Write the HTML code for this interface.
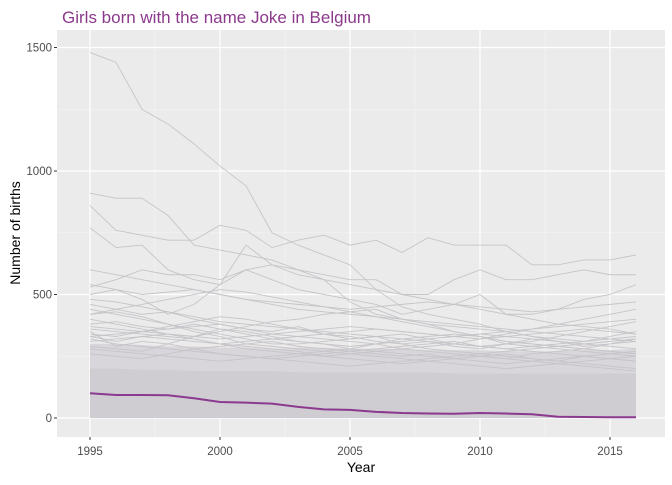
<!DOCTYPE html>
<html><head><meta charset="utf-8"><style>
body{margin:0;background:#fff;font-family:"Liberation Sans",Arial,sans-serif}
svg text{font-family:"Liberation Sans",Arial,sans-serif}
</style></head><body>
<svg id="chart" width="672" height="480">
<text x="62" y="23" font-size="17" fill="#8b3a8b">Girls born with the name Joke in Belgium</text>
<rect x="57" y="30" width="608" height="407" fill="#ebebeb"/>
<g id="grid"></g><g id="dense"></g><g id="lines"></g><g id="hl"></g><g id="axes"></g>
<text x="361" y="472" font-size="14" text-anchor="middle" fill="#000">Year</text>
<text transform="translate(20,233) rotate(-90)" font-size="14" text-anchor="middle" fill="#000">Number of births</text>
</svg>
<script>
const years=[1995,1996,1997,1998,1999,2000,2001,2002,2003,2004,2005,2006,2007,2008,2009,2010,2011,2012,2013,2014,2015,2016];
const xTicks=[1995,2000,2005,2010,2015];
const yTicks=[0,500,1000,1500];
const joke=[100,93,93,92,80,65,62,58,45,35,33,25,20,18,17,20,18,15,5,4,3,3];
const denseTop=[200,200,195,195,190,190,190,190,185,185,185,185,185,185,180,180,180,180,180,180,180,180];
const midTop=[300,300,295,290,290,285,285,280,285,285,280,280,280,275,275,275,270,270,270,275,275,280];
const s1=[1480,1440,1250,1190,1110,1020,940,750,700,660,620,520,450,420,400,380,350,330,310,300,290,280];
const s2=[910,890,890,820,700,680,660,640,600,560,540,520,500,480,460,440,420,400,380,370,360,340];
const s3=[860,760,740,720,720,780,760,690,720,740,700,720,670,730,700,700,700,620,620,640,640,660];
const s4=[770,690,700,600,560,540,700,620,580,560,470,420,400,380,370,360,350,330,320,310,330,350];
const s5=[530,560,600,580,580,560,600,620,600,580,560,560,500,500,560,600,560,560,580,600,580,580];
const s6=[500,520,480,420,460,540,600,560,520,500,480,460,420,440,460,500,420,420,440,480,500,540];
const s7=[460,440,420,430,400,380,360,350,370,340,320,330,300,310,290,280,300,320,310,290,300,310];
const s8=[420,430,410,380,350,330,300,310,290,280,270,260,250,260,240,250,260,240,230,250,240,230];
const s9=[400,380,360,340,330,350,370,390,400,420,430,440,400,380,350,330,300,290,280,270,260,250];
const s10=[380,390,370,360,380,360,340,320,310,300,290,300,280,270,260,250,240,260,270,280,300,320];
const s11=[360,350,340,330,320,300,280,270,260,250,260,270,280,290,300,320,340,360,380,400,420,440];
const s12=[340,330,350,370,390,410,400,380,360,340,330,310,300,280,270,260,250,240,230,220,210,200];
const s13=[320,300,290,280,270,260,250,240,250,260,270,280,290,300,310,290,280,270,260,250,240,230];
const s14=[330,310,330,340,320,300,290,280,270,250,240,230,220,230,240,250,240,230,220,210,200,190];
const s15=[290,280,270,300,330,360,350,330,310,300,280,270,260,250,240,230,220,230,240,250,260,270];
const s16=[280,270,260,250,240,230,240,250,260,270,280,300,320,330,340,330,310,300,290,280,270,260];
const s17=[350,290,310,300,280,260,250,240,230,220,210,220,230,240,250,260,270,280,290,300,310,320];
const s18=[260,250,240,260,280,290,300,290,280,270,260,250,240,230,220,210,200,210,220,230,240,250];
const s19=[440,420,400,380,360,340,320,300,300,310,320,330,340,320,300,290,300,310,330,350,370,390];
const s20=[480,470,450,430,410,390,380,370,360,350,340,330,320,310,300,290,280,290,300,310,320,330];
const s21=[330,340,350,360,370,380,360,340,330,340,350,360,350,340,330,320,330,340,350,360,350,340];
const s22=[370,360,350,340,330,320,330,340,350,360,370,360,350,340,330,340,350,360,370,380,390,400];
const s23=[310,320,330,320,310,300,310,320,330,320,310,300,310,320,330,340,330,320,310,300,310,320];
const s24=[600,580,560,540,520,500,480,460,440,430,420,410,400,390,380,370,360,350,340,330,320,310];
const s25=[540,520,500,510,520,500,480,470,460,450,440,450,460,470,460,450,440,430,440,450,460,470];
const s26=[420,440,460,480,500,520,510,490,470,450,430,410,390,370,350,330,310,300,290,280,270,260];
const series=[s1,s2,s3,s4,s5,s6,s7,s8,s9,s10,s11,s12,s13,s14,s15,s16,s17,s18,s19,s20,s21,s22,s23,s24,s25,s26];
const X=y=>90+(y-1995)*26.0;
const Y=v=>418-v*(123.5/500);
const NS="http://www.w3.org/2000/svg";
function mk(tag,parent,attrs){const e=document.createElementNS(NS,tag);for(const k in attrs)e.setAttribute(k,attrs[k]);document.getElementById(parent).appendChild(e);return e;}
for(let i=0;i<xTicks.length-1;i++){const e=mk('line','grid',{x1:(X(xTicks[i])+X(xTicks[i+1]))/2,x2:(X(xTicks[i])+X(xTicks[i+1]))/2,y1:30,y2:437,stroke:'#f5f5f5','stroke-width':0.6});

}
for(let i=0;i<yTicks.length-1;i++){const v=(yTicks[i]+yTicks[i+1])/2;const e=mk('line','grid',{x1:57,x2:665,y1:Y(v),y2:Y(v),stroke:'#f5f5f5','stroke-width':0.6});

}
xTicks.forEach(t=>{const e=mk('line','grid',{x1:X(t),x2:X(t),y1:30,y2:437,stroke:'#fff','stroke-width':1.2});


const k=mk('line','axes',{x1:X(t),x2:X(t),y1:437,y2:440,stroke:'#333'});


const l=mk('text','axes',{x:X(t),y:455,'font-size':11.5,'text-anchor':'middle',fill:'#4d4d4d'});l.textContent=t;

});
yTicks.forEach(t=>{const e=mk('line','grid',{x1:57,x2:665,y1:Y(t),y2:Y(t),stroke:'#fff','stroke-width':1.2});


const k=mk('line','axes',{x1:54,x2:57,y1:Y(t),y2:Y(t),stroke:'#333'});


const l=mk('text','axes',{x:52,y:Y(t)+4,'font-size':11.5,'text-anchor':'end',fill:'#4d4d4d'});l.textContent=t;

});
function area(arr,fill,name){let d='M'+X(years[0])+','+Y(0);years.forEach((y,i)=>d+=' L'+X(y)+','+Y(arr[i]));d+=' L'+X(years[years.length-1])+','+Y(0)+'Z';
const p=mk('path','dense',{d:d,fill:fill});

}
area(midTop,'#d8d6da','mid-density-lines');
area(denseTop,'#cfcdd1','dense-name-lines');
series.forEach((s,j)=>{const p=mk('polyline','lines',{points:s.map((v,i)=>X(years[i])+','+Y(v)).join(' '),fill:'none',stroke:'#c6c4c8','stroke-width':0.9});

});
const hp=mk('polyline','hl',{points:joke.map((v,i)=>X(years[i])+','+Y(v)).join(' '),fill:'none',stroke:'#8b3a8f','stroke-width':2});


</script>
</body></html>
